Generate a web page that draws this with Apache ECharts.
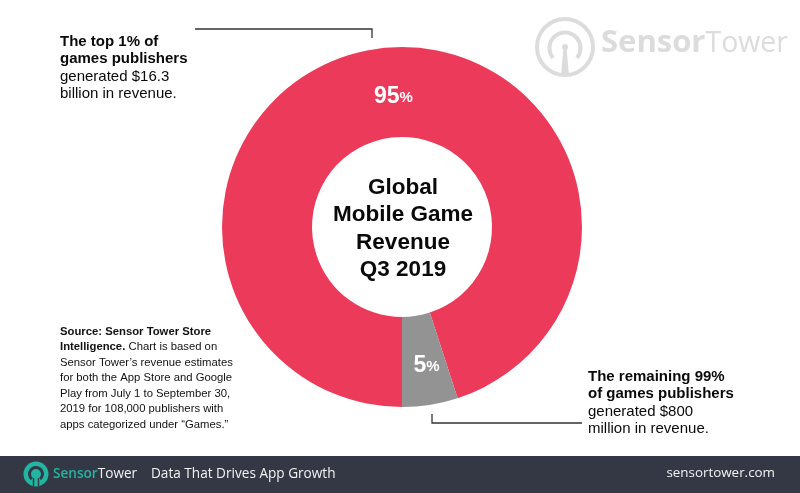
<!DOCTYPE html>
<html>
<head>
<meta charset="utf-8">
<style>html,body{margin:0;padding:0;background:#fff}#chart{width:800px;height:493px}</style>
<script src="https://cdn.jsdelivr.net/npm/echarts@6/dist/echarts.min.js"></script>
</head>
<body>
<div id="chart"></div>
<script>
var categories = ['The top 1% of games publishers', 'The remaining 99% of games publishers'];
var shares = [95, 5];
var sliceColors = ['#ec3b5a', '#939393'];
var centerTitle = 'Global\nMobile Game\nRevenue\nQ3 2019';

var HELV = '"Liberation Sans", Arial, sans-serif';
var OPEN = '"Open Sans", "Noto Sans", sans-serif';

function note(x, y, bold, plain) {
  return {
    type: 'text', left: x, top: y, silent: true,
    style: {
      text: '{b|' + bold + '}\n{n|' + plain + '}',
      rich: {
        b: { fontFamily: HELV, fontWeight: 'bold', fontSize: 15, lineHeight: 17.5, fill: '#0a0a0a' },
        n: { fontFamily: HELV, fontSize: 15, lineHeight: 17.5, fill: '#0a0a0a' }
      }
    }
  };
}

// leader lines
function leader(points) {
  return {
    type: 'polyline', silent: true,
    shape: { points: points },
    style: { stroke: '#333', lineWidth: 1.3, fill: null }
  };
}

// grey logo, top right
function bigLogo(cx, cy, color) {
  return [
    { type: 'circle', silent: true, shape: { cx: cx, cy: cy, r: 28 },
      style: { fill: '#fff', stroke: color, lineWidth: 4 } },
    { type: 'arc', silent: true,
      shape: { cx: cx, cy: cy + 1, r: 15.5, startAngle: Math.PI * 0.78, endAngle: Math.PI * 0.22 },
      style: { stroke: color, lineWidth: 4, fill: null } },
    { type: 'circle', silent: true, shape: { cx: cx, cy: cy, r: 3 }, style: { fill: color } },
    { type: 'polygon', silent: true,
      shape: { points: [[cx - 1.5, cy], [cx + 1.5, cy], [cx + 4, cy + 29], [cx - 4, cy + 29]] },
      style: { fill: color } }
  ];
}

// teal logo in the footer
function smallLogo(cx, cy, color, bg) {
  return [
    { type: 'circle', silent: true, shape: { cx: cx, cy: cy, r: 12.5 }, style: { fill: color } },
    { type: 'arc', silent: true,
      shape: { cx: cx, cy: cy, r: 6.5, startAngle: Math.PI * 0.72, endAngle: Math.PI * 0.28 },
      style: { stroke: bg, lineWidth: 3, fill: null } },
    { type: 'line', silent: true, shape: { x1: cx, y1: cy, x2: cx, y2: cy + 12 },
      style: { stroke: color, lineWidth: 3.5 } },
    { type: 'rect', silent: true, shape: { x: cx - 3.2, y: cy + 4, width: 1.4, height: 8 }, style: { fill: bg } },
    { type: 'rect', silent: true, shape: { x: cx + 1.8, y: cy + 4, width: 1.4, height: 8 }, style: { fill: bg } }
  ];
}

var option = {
  animation: false,
  backgroundColor: '#ffffff',
  title: {
    text: centerTitle,
    left: 398, top: 224, textAlign: 'center', textVerticalAlign: 'middle',
    textStyle: { fontFamily: HELV, fontWeight: 'bold', fontSize: 22.5, lineHeight: 27.5, color: '#0a0a0a' }
  },
  series: [{
    type: 'pie',
    center: [402, 227],
    radius: [90, 180],
    startAngle: 270,
    silent: true,
    emphasis: { disabled: true },
    labelLine: { show: false },
    label: {
      show: true,
      position: 'inside',
      formatter: function (p) { return '{v|' + p.value + '}{p|%}'; },
      rich: {
        v: { fontFamily: HELV, fontWeight: 'bold', fontSize: 23, color: '#fff' },
        p: { fontFamily: HELV, fontWeight: 'bold', fontSize: 15, color: '#fff', padding: [3, 0, 0, 0] }
      }
    },
    labelLayout: function (p) {
      return p.dataIndex === 0 ? { dx: 13, dy: 6 } : { dx: 3, dy: 2 };
    },
    data: categories.map(function (name, i) {
      return { name: name, value: shares[i], itemStyle: { color: sliceColors[i] } };
    })
  }],
  graphic: [
    leader([[195, 29], [372, 29], [372, 38]]),
    leader([[432, 414], [432, 423], [582, 423]]),
    note(60, 34, 'The top 1% of\ngames publishers', 'generated $16.3\nbillion in revenue.'),
    note(588, 369, 'The remaining 99%\nof games publishers', 'generated $800\nmillion in revenue.'),
    {
      type: 'text', left: 60, top: 326, silent: true,
      style: {
        text: '{b|Source: Sensor Tower Store}\n{b|Intelligence.} {n|Chart is based on}\n{n|Sensor Tower\u2019s revenue estimates}\n{n|for both the App Store and Google}\n{n|Play from July 1 to September 30,}\n{n|2019 for 108,000 publishers with}\n{n|apps categorized under \u201cGames.\u201d}',
        rich: {
          b: { fontFamily: HELV, fontWeight: 'bold', fontSize: 11.3, lineHeight: 15.5, fill: '#111' },
          n: { fontFamily: HELV, fontSize: 11.3, lineHeight: 15.5, fill: '#111' }
        }
      }
    }
  ].concat(bigLogo(565, 47, '#dcdcdc'), [
    {
      type: 'text', left: 601, top: 28, silent: true,
      style: {
        text: '{b|Sensor}{n|Tower}',
        rich: {
          b: { fontFamily: OPEN, fontWeight: 'bold', fontSize: 31, fill: '#dcdcdc' },
          n: { fontFamily: OPEN, fontWeight: 400, fontSize: 28.5, fill: '#dcdcdc' }
        }
      }
    },
    { type: 'rect', silent: true, shape: { x: 0, y: 456, width: 800, height: 37 }, style: { fill: '#343844' } }
  ], smallLogo(36, 474, '#22b5a2', '#343844'), [
    {
      type: 'text', left: 53, top: 467, silent: true,
      style: {
        text: '{b|Sensor}{n|Tower}',
        rich: {
          b: { fontFamily: OPEN, fontSize: 13.6, fontWeight: 600, fill: '#22b5a2' },
          n: { fontFamily: OPEN, fontSize: 13.6, fill: '#f2f2f2' }
        }
      }
    },
    {
      type: 'text', left: 151, top: 467, silent: true,
      style: { text: 'Data That Drives App Growth', fontFamily: OPEN, fontSize: 13.6, fill: '#f2f2f2' }
    },
    {
      type: 'text', right: 25, top: 467, silent: true,
      style: { text: 'sensortower.com', fontFamily: OPEN, fontSize: 13.4, fill: '#f2f2f2' }
    }
  ])
};

var chart = echarts.init(document.getElementById('chart'));
chart.setOption(option);
</script>
</body>
</html>
